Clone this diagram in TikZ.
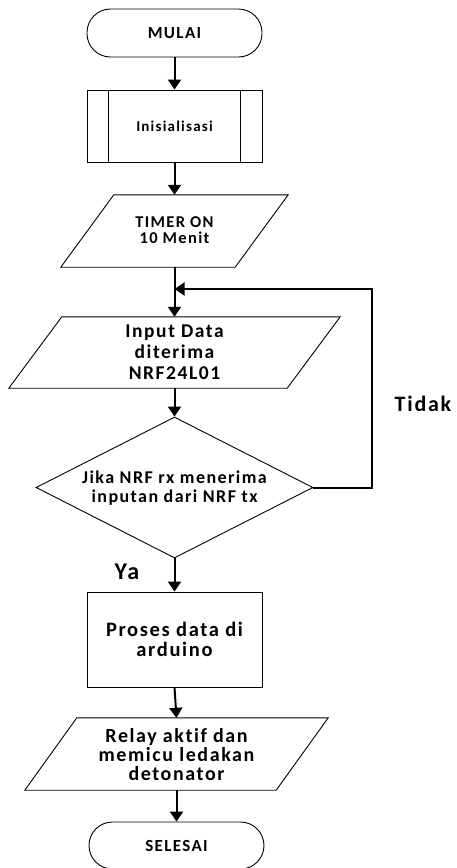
\documentclass[tikz,border=0pt]{standalone}
\usepackage{fontspec}
\setmainfont{Carlito}[LetterSpace=8,Ligatures=NoCommon]
\usetikzlibrary{arrows.meta,shapes.geometric,calc}
\begin{document}
\begin{tikzpicture}[x=1pt,y=-1pt,
  every node/.style={font=\bfseries, align=center, inner sep=0pt},
  shapeline/.style={line width=0.9pt},
  conn/.style={line width=2pt, -{Triangle[length=10pt,width=13pt]}},
  term/.style={draw, shapeline, rounded corners=23.5pt, minimum width=175pt, minimum height=48pt},
  boxnode/.style={draw, shapeline, rectangle, minimum width=175pt},
  para/.style={rectangle, draw=none},
  dec/.style={draw, shapeline, diamond, minimum width=277pt, minimum height=141pt, inner sep=0pt}
]
\useasboundingbox (0,0) rectangle (457,868);

\node[term, font=\bfseries\fontsize{17}{18}\selectfont] (mulai) at (174.5,33) {MULAI};

\node[boxnode, minimum height=72pt, font=\bfseries\fontsize{15}{17}\selectfont] (init) at (174.5,126) {Inisialisasi};
\draw[shapeline] ($(init.north west)+(22,0)$) -- ($(init.south west)+(22,0)$);
\draw[shapeline] ($(init.north east)+(-22,0)$) -- ($(init.south east)+(-22,0)$);

\node[para, minimum width=227pt, minimum height=72pt] (timer) at (174.5,231) {};
\draw[shapeline] ($(timer.north west)+(53,0)$) -- (timer.north east) -- ($(timer.south east)+(-53,0)$) -- (timer.south west) -- cycle;
\node[font=\bfseries\fontsize{16.5}{16}\selectfont] (timertext) at (174.5,230) {TIMER ON\\10 Menit};

\node[para, minimum width=331pt, minimum height=71pt] (input) at (174.5,352.5) {};
\draw[shapeline] ($(input.north west)+(53,0)$) -- (input.north east) -- ($(input.south east)+(-53,0)$) -- (input.south west) -- cycle;
\node[font=\bfseries\fontsize{19.5}{21}\selectfont] (inputtext) at (174.5,352.5) {Input Data\\diterima\\NRF24L01};

\node[dec] (cek) at (174.5,487.5) {};
\node[font=\bfseries\fontsize{18}{19}\selectfont] (cektext) at (174.5,488) {Jika NRF rx menerima\\inputan dari NRF tx};

\node[boxnode, minimum height=95pt, font=\bfseries\fontsize{20.5}{20}\selectfont] (proses) at (174.5,639.5) {Proses data di\\arduino};

\node[para, minimum width=303pt, minimum height=72pt] (relay) at (176.5,754) {};
\draw[shapeline] ($(relay.north west)+(52,0)$) -- (relay.north east) -- ($(relay.south east)+(-52,0)$) -- (relay.south west) -- cycle;
\node[font=\bfseries\fontsize{20}{19}\selectfont] (relaytext) at (176.5,755) {Relay aktif dan\\memicu ledakan\\detonator};

\node[term, minimum height=47pt, font=\bfseries\fontsize{17}{18}\selectfont] (selesai) at (176.5,845.5) {SELESAI};

\node[font=\bfseries\fontsize{22}{24}\selectfont] (tidak) at (423,404) {Tidak};
\node[font=\bfseries\fontsize{24}{26}\selectfont] (ya) at (127,572) {Ya};

\coordinate (join) at (174.5,289);
\coordinate (loopcorner) at (372,487.5);

\draw[conn] (mulai.south) -- (init.north);
\draw[conn] (init.south) -- (timer.north);
\draw[conn] (timer.south) -- (input.north);
\draw[conn] (input.south) -- (cek.north);
\draw[conn] (cek.south) -- (proses.north);
\draw[conn] (proses.south) -- (relay.north);
\draw[conn] (relay.south) -- (selesai.north);
\draw[conn] (cek.east) -- (loopcorner) |- (join);
\end{tikzpicture}
\end{document}
